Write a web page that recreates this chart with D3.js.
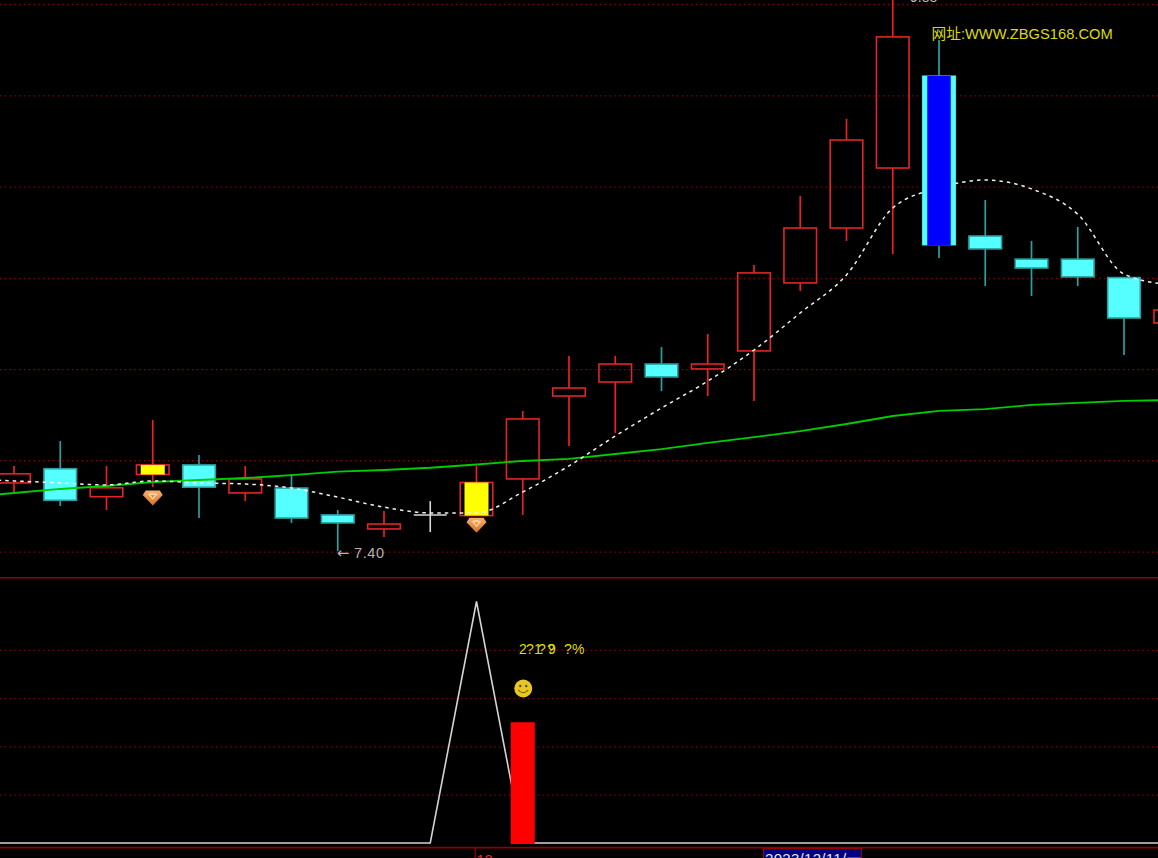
<!DOCTYPE html>
<html><head><meta charset="utf-8">
<script src="https://cdn.jsdelivr.net/npm/d3@7/dist/d3.min.js"></script>
<style>html,body{margin:0;padding:0;background:#000;overflow:hidden}svg{display:block}</style>
</head><body><div id="c"></div>
<script>
// index 0 is the bar just left of the visible window
const opens  = [7.655,7.709,7.773,7.647,7.747,7.790,7.664,7.686,7.565,7.502,7.565,7.562,7.727,8.100,8.163,8.244,8.222,8.303,8.609,8.856,9.126,9.540,8.820,8.716,8.716,8.633,8.429];
const closes = [7.767,7.750,7.631,7.687,7.790,7.690,7.727,7.551,7.529,7.524,7.565,7.711,7.997,8.136,8.244,8.186,8.244,8.654,8.856,9.252,9.716,8.780,8.762,8.676,8.636,8.451,8.487];
const highs  = [7.812,7.785,7.897,7.785,7.992,7.835,7.785,7.749,7.587,7.583,7.627,7.785,8.033,8.280,8.280,8.320,8.379,8.690,9.000,9.347,9.900,9.702,8.982,8.798,8.861,8.636,8.550];
const lows   = [7.655,7.668,7.605,7.587,7.690,7.551,7.627,7.529,7.402,7.466,7.488,7.562,7.565,7.875,7.934,8.122,8.100,8.078,8.573,8.798,8.739,8.721,8.595,8.550,8.595,8.285,8.352];
const maShort = [7.727,7.718,7.709,7.700,7.718,7.709,7.704,7.686,7.645,7.600,7.574,7.574,7.668,7.786,7.920,8.046,8.167,8.307,8.474,8.645,8.946,9.036,9.072,9.032,8.918,8.649,8.600];
const maLong  = [7.645,7.664,7.682,7.695,7.713,7.722,7.731,7.744,7.760,7.767,7.777,7.792,7.808,7.817,7.839,7.861,7.889,7.915,7.942,7.974,8.010,8.033,8.041,8.060,8.069,8.078,8.082];
const highlightBars = [[4,"#ffff00"],[11,"#ffff00"],[21,"#0000ff"]];
const diamonds = [[4,7.641],[11,7.519]];
const priceGrid = [9.864,9.453,9.042,8.631,8.221,7.811,7.400];
const signalLine = [0,0,0,0,0,0,0,0,0,0,0,100,0,0,0,0,0,0,0,0,0,0,0,0,0,0,0];
const signalBars = [[12,50]];
const signalGrid = [20,40,60,80];
const monthTick = [[11,"12"]];
const lowArrow = "←", lowLabel = "7.40", highLabel = "9.88";
const siteLabel = "网址:WWW.ZBGS168.COM";
const dateLabel = "2023/12/11/一";

const W=1158,H=858;
const svg=d3.select("#c").append("svg").attr("width",W).attr("height",H).style("background","#000");
const x=d3.scaleLinear().domain([0,1]).range([-32.25,14]);
const y=d3.scaleLinear().domain([9.882,7.40]).range([0,551.6]);
const y2=d3.scaleLinear().domain([0,100]).range([843,601.5]);
const RED="#e02626",CY="#55ffff",TEAL="#2aa0a0",GRID="#8c0000",GREY="#c0c0c0",TXT="#dcdc00";

function grid(vals,scale){
  const g=svg.append("g").call(d3.axisLeft(scale).tickValues(vals).tickSize(-W).tickFormat(""));
  g.select(".domain").remove();
  g.selectAll("line").attr("stroke",GRID).attr("stroke-width",1.3).attr("stroke-dasharray","1.4 3.4");
}
grid(priceGrid,y); grid(signalGrid,y2);

const idx=d3.range(opens.length);
const lineGen=(arr,curve)=>d3.line().curve(curve||d3.curveLinear).x((d,i)=>x(i)).y(d=>y(d))(arr);
const candles=svg.append("g");
idx.forEach(i=>{
  const o=opens[i],c=closes[i],cx=x(i);
  const up=c>o, doji=c===o;
  const top=y(Math.max(o,c)),bot=y(Math.min(o,c));
  if(doji){
    candles.append("line").attr("x1",cx).attr("x2",cx).attr("y1",y(highs[i])).attr("y2",y(lows[i])).attr("stroke","#d8d8d8").attr("stroke-width",1.6);
    candles.append("line").attr("x1",cx-16.5).attr("x2",cx+16.5).attr("y1",top).attr("y2",top).attr("stroke","#d8d8d8").attr("stroke-width",1.6);
    return;
  }
  const wc=up?"#ec2020":TEAL;
  candles.append("line").attr("x1",cx).attr("x2",cx).attr("y1",y(highs[i])).attr("y2",top).attr("stroke",wc).attr("stroke-width",1.7);
  candles.append("line").attr("x1",cx).attr("x2",cx).attr("y1",bot).attr("y2",y(lows[i])).attr("stroke",wc).attr("stroke-width",1.7);
  candles.append("rect").attr("x",cx-16.3).attr("width",32.6).attr("y",top).attr("height",bot-top)
    .attr("fill",up?"none":CY).attr("stroke",up?RED:TEAL).attr("stroke-width",1.6);
});
highlightBars.forEach(([i,col])=>{
  const top=y(Math.max(opens[i],closes[i])),bot=y(Math.min(opens[i],closes[i]));
  svg.append("rect").attr("x",x(i)-12).attr("width",24).attr("y",top).attr("height",bot-top).attr("fill",col);
});
svg.append("path").attr("d",lineGen(maLong)).attr("fill","none").attr("stroke","#00cc00").attr("stroke-width",1.9);
svg.append("path").attr("d",lineGen(maShort,d3.curveMonotoneX)).attr("fill","none").attr("stroke","#f0f0f0").attr("stroke-width",1.5).attr("stroke-dasharray","3.5 4");
{const [i,col]=highlightBars[2];const top=y(opens[i]),bot=y(closes[i]);
 svg.append("rect").attr("x",x(i)-16.7).attr("width",33.4).attr("y",top).attr("height",bot-top).attr("fill",CY);
 svg.append("rect").attr("x",x(i)-11.7).attr("width",23.4).attr("y",top).attr("height",bot-top+0.8).attr("fill",col);}

const defs=svg.append("defs");
const dg=defs.append("linearGradient").attr("id","dg").attr("x1",0).attr("y1",0).attr("x2",0).attr("y2",1);
dg.append("stop").attr("offset","0").attr("stop-color","#f8b070");dg.append("stop").attr("offset","1").attr("stop-color","#d87020");
diamonds.forEach(([i,p])=>{
  const g=svg.append("g").attr("transform",`translate(${x(i)},${y(p)})`);
  g.append("path").attr("d","M-7,-7.5L7,-7.5L10,-3L0,7.5L-10,-3Z").attr("fill","url(#dg)");
  g.append("path").attr("d","M-5,-4L0,-5.5L5,-4L0,2Z").attr("fill","#ffd2a0");
  g.append("path").attr("d","M-2,-3L2,-3L0,0Z").attr("fill","#e88a38");
});

const F='"Liberation Sans",Arial,"Noto Sans CJK SC",sans-serif';
svg.append("text").attr("x",x(8)-1).attr("y",y(7.40)+6).attr("fill","#b4b4b4").attr("font-family",'"DejaVu Sans"').attr("font-size",15).text(lowArrow);
svg.append("text").attr("x",354).attr("y",y(7.40)+6.5).attr("fill","#b4b4b4").attr("font-family",F).attr("font-size",14.5).attr("letter-spacing",0.6).text(lowLabel);
svg.append("text").attr("x",910).attr("y",2).attr("fill",GREY).attr("font-family",F).attr("font-size",14).text(highLabel);
svg.append("text").attr("x",931.5).attr("y",38.5).attr("fill",TXT).attr("font-family",F).attr("font-size",14.7).text(siteLabel);

svg.append("line").attr("x1",0).attr("x2",W).attr("y1",577.7).attr("y2",577.7).attr("stroke","#9a0000").attr("stroke-width",1.4);

svg.append("path").attr("d",d3.line().x((d,i)=>x(i)).y(d=>y2(d))(signalLine)).attr("fill","none").attr("stroke","#d4d4d4").attr("stroke-width",1.6);
signalBars.forEach(([i,v])=>{
  svg.append("rect").attr("x",x(i)-12).attr("width",24).attr("y",y2(v)).attr("height",y2(0)-y2(v)+1).attr("fill","#ff0000");
});
const sx=x(12)+0.5;
const smile=svg.append("g").attr("transform",`translate(${sx},688.5)`);
smile.append("circle").attr("r",9).attr("fill","#e8c820");
smile.append("circle").attr("cx",-3).attr("cy",-2.5).attr("r",1.2).attr("fill","#5a4a00");
smile.append("circle").attr("cx",3).attr("cy",-2.5).attr("r",1.2).attr("fill","#5a4a00");
smile.append("path").attr("d","M-5,1.5Q0,7 5,1.5").attr("fill","none").attr("stroke","#5a4a00").attr("stroke-width",1.1);
[["2",519],["?",526],["1",534],["?",538],["9",548],["?",547],["?",564],["%",572]].forEach(([t,px])=>{
  svg.append("text").attr("x",px).attr("y",654).attr("fill",TXT).attr("font-family",F).attr("font-size",14).text(t);
});

const ax=svg.append("g").attr("transform","translate(0,847.6)")
  .call(d3.axisBottom(x).tickValues(monthTick.map(d=>d[0])).tickSize(12).tickFormat(()=>monthTick[0][1]));
ax.select(".domain").remove();
ax.selectAll("line").attr("stroke","#9a0000").attr("stroke-width",1.2).attr("transform","translate(-1.8,0)");
ax.selectAll("text").attr("fill","#ff2020").attr("font-family",F).attr("font-size",14.5).attr("text-anchor","start").attr("x",-0.5).attr("y",17).attr("dy",0);
svg.append("line").attr("x1",0).attr("x2",W).attr("y1",847.6).attr("y2",847.6).attr("stroke","#8c0000").attr("stroke-width",1.9);
svg.append("rect").attr("x",763.5).attr("y",848.5).attr("width",98).attr("height",14).attr("fill","#000080").attr("stroke","#9a0000").attr("stroke-width",1);
svg.append("text").attr("x",765).attr("y",863.5).attr("fill","#e8e8e8").attr("font-family",F).attr("font-size",15).attr("letter-spacing",0.3).text(dateLabel);
</script></body></html>
